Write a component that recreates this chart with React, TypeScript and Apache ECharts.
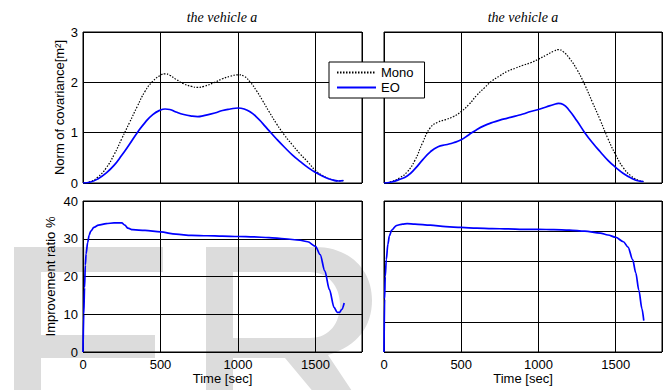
import React, { useEffect, useRef } from "react";
import * as echarts from "echarts";

// ---- data ----
const tTL = [0, 50, 100, 150, 200, 250, 300, 350, 400, 450, 500, 530, 560, 600, 650, 700, 740, 780, 850, 900, 950, 1000, 1040, 1080, 1120, 1160, 1200, 1250, 1300, 1350, 1400, 1450, 1500, 1550, 1600, 1650, 1680];
const monoTL = [0, 0.03, 0.13, 0.3, 0.56, 0.88, 1.2, 1.52, 1.82, 2.02, 2.14, 2.17, 2.14, 2.06, 1.97, 1.92, 1.9, 1.92, 2.0, 2.07, 2.12, 2.15, 2.12, 2.0, 1.83, 1.63, 1.42, 1.17, 0.95, 0.76, 0.58, 0.42, 0.25, 0.14, 0.07, 0.04, 0.05];
const eoTL = [0, 0.02, 0.09, 0.2, 0.35, 0.55, 0.77, 1.0, 1.2, 1.36, 1.45, 1.47, 1.46, 1.41, 1.36, 1.33, 1.32, 1.34, 1.39, 1.44, 1.47, 1.49, 1.47, 1.41, 1.31, 1.18, 1.04, 0.87, 0.71, 0.56, 0.43, 0.31, 0.21, 0.13, 0.07, 0.04, 0.05];

const tTR = [0, 50, 100, 150, 200, 250, 300, 350, 400, 450, 500, 550, 600, 650, 700, 750, 800, 850, 900, 950, 1000, 1050, 1100, 1130, 1160, 1200, 1250, 1300, 1350, 1400, 1450, 1500, 1550, 1600, 1650, 1680];
const monoTR = [0, 0.03, 0.1, 0.22, 0.45, 0.8, 1.1, 1.21, 1.26, 1.32, 1.42, 1.56, 1.74, 1.89, 2.03, 2.13, 2.22, 2.28, 2.34, 2.39, 2.46, 2.54, 2.62, 2.65, 2.61, 2.48, 2.25, 1.95, 1.6, 1.25, 0.88, 0.56, 0.3, 0.14, 0.05, 0.03];
const eoTR = [0, 0.02, 0.07, 0.14, 0.28, 0.46, 0.62, 0.72, 0.76, 0.8, 0.86, 0.96, 1.06, 1.14, 1.2, 1.25, 1.29, 1.33, 1.37, 1.42, 1.46, 1.51, 1.56, 1.58, 1.56, 1.44, 1.23, 1.0, 0.8, 0.62, 0.45, 0.31, 0.19, 0.1, 0.04, 0.03];

const tBL = [0, 5, 10, 15, 20, 30, 40, 50, 70, 100, 150, 200, 250, 270, 290, 320, 400, 500, 600, 700, 800, 900, 1000, 1100, 1200, 1300, 1400, 1450, 1500, 1530, 1560, 1590, 1620, 1640, 1655, 1670, 1685];
const ratioBL = [0, 10, 17, 23, 26, 29, 31, 32, 33, 33.6, 34, 34.2, 34.2, 33.6, 32.8, 32.4, 32.2, 31.8, 31.2, 30.9, 30.8, 30.7, 30.6, 30.5, 30.3, 30.0, 29.6, 29.2, 28.0, 25.8, 21.5, 16.5, 11.8, 10.5, 10.5, 11.3, 13.0];

const tBR = [0, 4, 8, 15, 25, 35, 50, 80, 120, 150, 200, 300, 400, 500, 600, 700, 800, 900, 1000, 1100, 1200, 1300, 1400, 1450, 1500, 1550, 1580, 1610, 1630, 1650, 1670, 1682];
const ratioBR = [0, 14, 20, 24.5, 28.5, 30.8, 32.3, 33.5, 33.9, 34.0, 33.9, 33.6, 33.2, 33.0, 32.8, 32.7, 32.6, 32.5, 32.5, 32.4, 32.3, 32.0, 31.5, 31.0, 30.4, 29.2, 27.8, 24.5, 21.0, 16.4, 11.5, 8.3];

const titles = ["the vehicle a", "the vehicle a"];
const yNameTop = "Norm of covariance[m²]";
const yNameBottom = "Improvement ratio %";
const xName = "Time [sec]";

// background watermark letter "R" (decoration, not data)
const R_PATH =
  "M206 247 L315 247 C350 247 372 270 372 300 C372 326 358 346 328 355 L358 400 L320 400 L285 358 L233 358 L233 400 L206 400 Z " +
  "M233 272 L233 338 L310 338 C330 338 340 322 340 305 C340 286 328 272 310 272 Z";
let registered = false;
function registerShapes() {
  if (registered) return;
  echarts.graphic.registerShape("wmR", echarts.graphic.extendPath(R_PATH, {}) as any);
  registered = true;
}

const pairs = (t: number[], v: number[]) => t.map((x, i) => [x, v[i]]);

const SANS = "Liberation Sans, Arial, sans-serif";
const SERIF = "Liberation Serif, Times New Roman, serif";

export default function App() {
  const ref = useRef<HTMLDivElement>(null);
  useEffect(() => {
    if (!ref.current) return;
    registerShapes();
    const chart = echarts.init(ref.current, undefined, { renderer: "svg" });

    const gridBase = { show: true, borderColor: "#000", borderWidth: 1, backgroundColor: "transparent" };
    const grids = [
      { left: 83, top: 32, width: 279, height: 151 },
      { left: 384, top: 32, width: 278, height: 151 },
      { left: 83, top: 201, width: 279, height: 151 },
      { left: 384, top: 201, width: 278, height: 151 },
    ].map((g) => ({ ...gridBase, ...g }));

    const split = { show: true, lineStyle: { color: "#000", width: 1 } };
    const xAxes = [0, 1, 2, 3].map((i) => ({
      type: "value",
      gridIndex: i,
      min: 0,
      max: 1800,
      interval: 500,
      axisLine: { show: false },
      axisTick: { show: false },
      splitLine: split,
      axisLabel: {
        show: i >= 2,
        showMaxLabel: false,
        fontSize: 13,
        color: "#000",
        margin: 6,
        fontFamily: SANS,
        formatter: (v: number) => String(v),
      },
      name: i >= 2 ? xName : "",
      nameLocation: "middle",
      nameGap: 20,
      nameTextStyle: { fontSize: 13, color: "#000", fontFamily: SANS },
    }));
    const yAxes = [0, 1, 2, 3].map((i) => ({
      type: "value",
      gridIndex: i,
      min: 0,
      max: i < 2 ? 3 : 40,
      interval: i < 2 ? 1 : i === 2 ? 10 : 8,
      axisLine: { show: false },
      axisTick: { show: false },
      splitLine: split,
      axisLabel: { show: i === 0 || i === 2, fontSize: 13, color: "#000", margin: 5, fontFamily: SANS },
      name: i === 0 ? yNameTop : i === 2 ? yNameBottom : "",
      nameLocation: "middle",
      nameRotate: 90,
      nameGap: i === 0 ? 17 : 26,
      nameTextStyle: { fontSize: 13, color: "#000", fontFamily: SANS },
    }));

    const monoStyle = { color: "#000", width: 1.2, type: [1.5, 1.5] };
    const eoStyle = { color: "#0000ff", width: 1.7 };
    const line = (name: string, idx: number, data: number[][], ls: any, mono: boolean) => ({
      name,
      type: "line",
      xAxisIndex: idx,
      yAxisIndex: idx,
      data,
      showSymbol: false,
      symbol: "none",
      smooth: mono ? 0.3 : 0.5,
      smoothMonotone: mono ? "x" : undefined,
      lineStyle: ls,
      itemStyle: { color: ls.color },
      z: 3,
    });

    const wm = "#dcdcdc";
    const option: any = {
      animation: false,
      backgroundColor: "#fff",
      title: [
        { text: titles[0], left: 222, top: 10, textAlign: "center", padding: 0, textStyle: { fontFamily: SERIF, fontStyle: "italic", fontWeight: "normal", fontSize: 14, color: "#000" } },
        { text: titles[1], left: 523, top: 10, textAlign: "center", padding: 0, textStyle: { fontFamily: SERIF, fontStyle: "italic", fontWeight: "normal", fontSize: 14, color: "#000" } },
      ],
      legend: {
        data: ["Mono", "EO"],
        orient: "vertical",
        left: 329,
        top: 62,
        padding: [4, 11, 4, 7],
        itemGap: 2,
        itemWidth: 39,
        itemHeight: 14,
        backgroundColor: "#fff",
        borderColor: "#000",
        borderWidth: 1,
        borderRadius: 0,
        itemStyle: { opacity: 0 },
        textStyle: { fontSize: 13, color: "#000", fontFamily: SANS },
        z: 10,
      },
      grid: grids,
      xAxis: xAxes,
      yAxis: yAxes,
      series: [
        line("Mono", 0, pairs(tTL, monoTL), monoStyle, false),
        line("EO", 0, pairs(tTL, eoTL), eoStyle, false),
        line("Mono", 1, pairs(tTR, monoTR), monoStyle, false),
        line("EO", 1, pairs(tTR, eoTR), eoStyle, false),
        line("Ratio A", 2, pairs(tBL, ratioBL), eoStyle, true),
        line("Ratio B", 3, pairs(tBR, ratioBR), eoStyle, true),
      ],
      graphic: [
        { type: "rect", z: -10, silent: true, shape: { x: 14, y: 247, width: 27, height: 150 }, style: { fill: wm } },
        { type: "rect", z: -10, silent: true, shape: { x: 14, y: 247, width: 149, height: 25 }, style: { fill: wm } },
        { type: "rect", z: -10, silent: true, shape: { x: 14, y: 335, width: 141, height: 23 }, style: { fill: wm } },
        { type: "wmR", z: -10, silent: true, x: 0, y: 0, style: { fill: wm } },
      ],
    };
    chart.setOption(option);
    return () => chart.dispose();
  }, []);
  return (
    <div
      ref={ref}
      style={{ position: "fixed", left: 0, top: 0, width: 664, height: 390, background: "#fff" }}
    />
  );
}
